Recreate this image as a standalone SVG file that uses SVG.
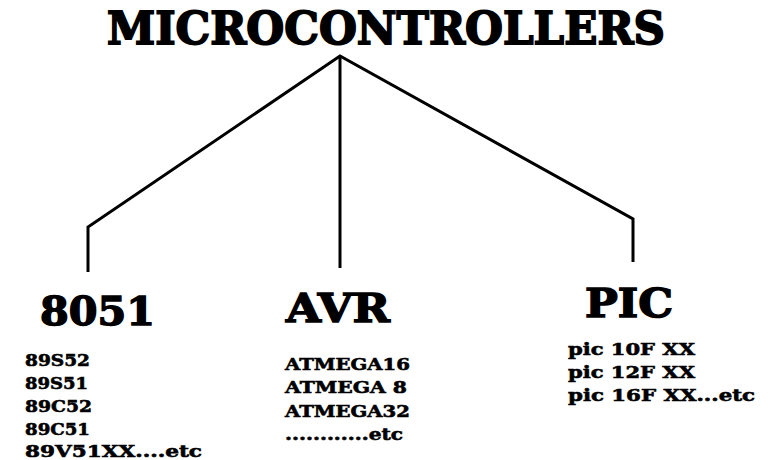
<svg xmlns="http://www.w3.org/2000/svg" width="771" height="460" viewBox="0 0 771 460">
<style>
text{font-family:"DejaVu Serif","Liberation Serif",serif;font-weight:bold;fill:#000}
.t{font-size:44px;stroke:#000;stroke-width:1.8}
.h{font-size:40px;stroke:#000;stroke-width:1.5}
.i{font-size:17px;stroke:#000;stroke-width:0.6}
.c{fill:none;stroke:#000;stroke-width:3;stroke-linejoin:miter;stroke-linecap:butt}
</style>
<rect width="771" height="460" fill="#fff"/>
<g id="root"><text class="t" x="107" y="44" textLength="558" lengthAdjust="spacingAndGlyphs">MICROCONTROLLERS</text></g>
<g id="connectors">
<polyline class="c" points="88,272 88,227 340,56 633,219 633,262"/>
<line class="c" x1="340" y1="56" x2="340" y2="268"/>
</g>
<g id="n8051">
<text class="h" x="40" y="325" textLength="115" lengthAdjust="spacingAndGlyphs">8051</text>
<text class="i" x="25" y="366" textLength="65" lengthAdjust="spacingAndGlyphs">89S52</text>
<text class="i" x="25" y="389" textLength="63" lengthAdjust="spacingAndGlyphs">89S51</text>
<text class="i" x="25" y="412" textLength="67" lengthAdjust="spacingAndGlyphs">89C52</text>
<text class="i" x="25" y="435" textLength="65" lengthAdjust="spacingAndGlyphs">89C51</text>
<text class="i" x="25" y="457" textLength="177" lengthAdjust="spacingAndGlyphs">89V51XX....etc</text>
</g>
<g id="avr">
<text class="h" x="286" y="322" textLength="104" lengthAdjust="spacingAndGlyphs">AVR</text>
<text class="i" x="285" y="370" textLength="125" lengthAdjust="spacingAndGlyphs">ATMEGA16</text>
<text class="i" x="285" y="393" textLength="122" lengthAdjust="spacingAndGlyphs">ATMEGA 8</text>
<text class="i" x="285" y="417" textLength="125" lengthAdjust="spacingAndGlyphs">ATMEGA32</text>
<text class="i" x="285" y="440" textLength="118" lengthAdjust="spacingAndGlyphs">............etc</text>
</g>
<g id="pic">
<text class="h" x="585" y="317" textLength="88" lengthAdjust="spacingAndGlyphs">PIC</text>
<text class="i" x="568" y="355" textLength="127" lengthAdjust="spacingAndGlyphs">pic 10F XX</text>
<text class="i" x="568" y="378" textLength="127" lengthAdjust="spacingAndGlyphs">pic 12F XX</text>
<text class="i" x="568" y="401" textLength="187" lengthAdjust="spacingAndGlyphs">pic 16F XX...etc</text>
</g>
</svg>
